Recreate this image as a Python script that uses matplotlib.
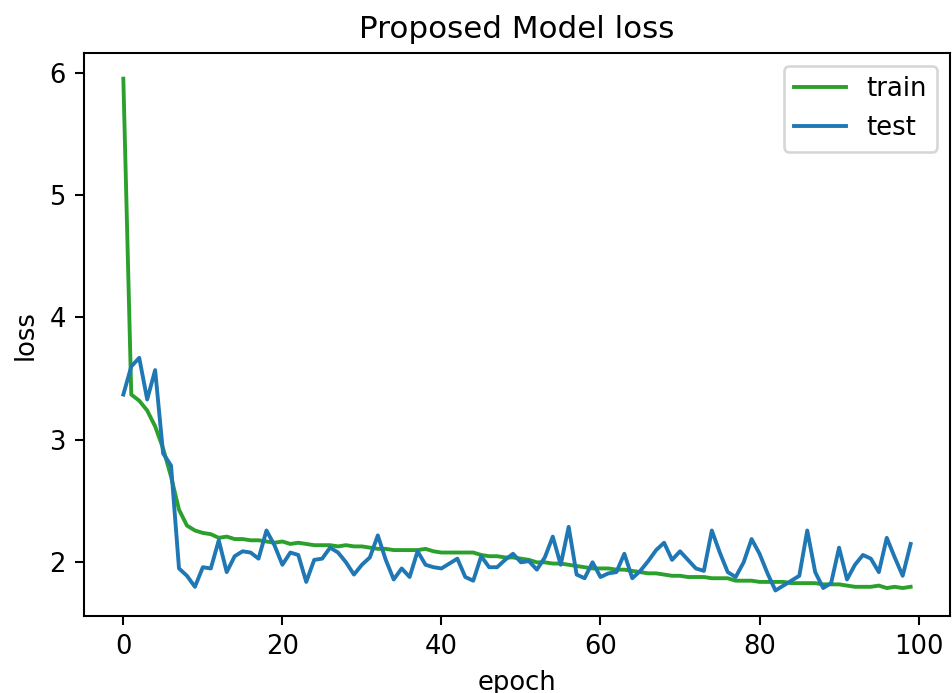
#!/usr/bin/env python3
"""Training / test loss curves for the proposed model."""
import matplotlib
matplotlib.use("Agg")
import matplotlib.pyplot as plt

# values, one per epoch (0..99)
train_loss = [
    5.95, 3.37, 3.32, 3.24, 3.11, 2.93, 2.70, 2.43, 2.30, 2.26,
    2.24, 2.23, 2.20, 2.21, 2.19, 2.19, 2.18, 2.18, 2.17, 2.16,
    2.17, 2.15, 2.16, 2.15, 2.14, 2.14, 2.14, 2.13, 2.14, 2.13,
    2.13, 2.12, 2.11, 2.11, 2.10, 2.10, 2.10, 2.10, 2.11, 2.09,
    2.08, 2.08, 2.08, 2.08, 2.08, 2.06, 2.05, 2.05, 2.04, 2.04,
    2.03, 2.02, 2.00, 2.00, 1.99, 1.99, 1.98, 1.97, 1.96, 1.95,
    1.95, 1.95, 1.94, 1.94, 1.93, 1.92, 1.91, 1.91, 1.90, 1.89,
    1.89, 1.88, 1.88, 1.88, 1.87, 1.87, 1.87, 1.85, 1.85, 1.85,
    1.84, 1.84, 1.84, 1.84, 1.83, 1.83, 1.83, 1.83, 1.82, 1.82,
    1.82, 1.81, 1.80, 1.80, 1.80, 1.81, 1.79, 1.80, 1.79, 1.80,
]
test_loss = [
    3.37, 3.60, 3.67, 3.33, 3.57, 2.89, 2.79, 1.95, 1.89, 1.80,
    1.96, 1.95, 2.18, 1.92, 2.05, 2.09, 2.08, 2.03, 2.26, 2.14,
    1.98, 2.08, 2.06, 1.84, 2.02, 2.03, 2.12, 2.08, 2.00, 1.90,
    1.98, 2.04, 2.22, 2.02, 1.86, 1.95, 1.88, 2.09, 1.98, 1.96,
    1.95, 1.99, 2.03, 1.88, 1.85, 2.05, 1.96, 1.96, 2.02, 2.07,
    2.00, 2.01, 1.94, 2.04, 2.21, 1.98, 2.29, 1.90, 1.87, 2.00,
    1.88, 1.91, 1.92, 2.07, 1.87, 1.93, 2.01, 2.10, 2.16, 2.02,
    2.09, 2.02, 1.95, 1.93, 2.26, 2.08, 1.92, 1.88, 2.00, 2.19,
    2.07, 1.91, 1.77, 1.81, 1.85, 1.89, 2.26, 1.92, 1.79, 1.83,
    2.12, 1.86, 1.98, 2.06, 2.03, 1.92, 2.20, 2.04, 1.89, 2.15,
]
epochs = list(range(len(train_loss)))

C_TRAIN = "#2ca02c"
C_TEST = "#1f77b4"

DPI = 186
fig = plt.figure(figsize=(952 / DPI, 693 / DPI), dpi=DPI)
ax = fig.add_axes([0.0882, 0.111, 0.9097, 0.8124])
ax.plot(epochs, train_loss, color=C_TRAIN, label="train")
ax.plot(epochs, test_loss, color=C_TEST, label="test")
ax.set_title("Proposed Model loss")
ax.set_xlabel("epoch")
ax.set_ylabel("loss")
ax.legend(loc="upper right")
fig.savefig("out.png", dpi=DPI)
plt.close(fig)
